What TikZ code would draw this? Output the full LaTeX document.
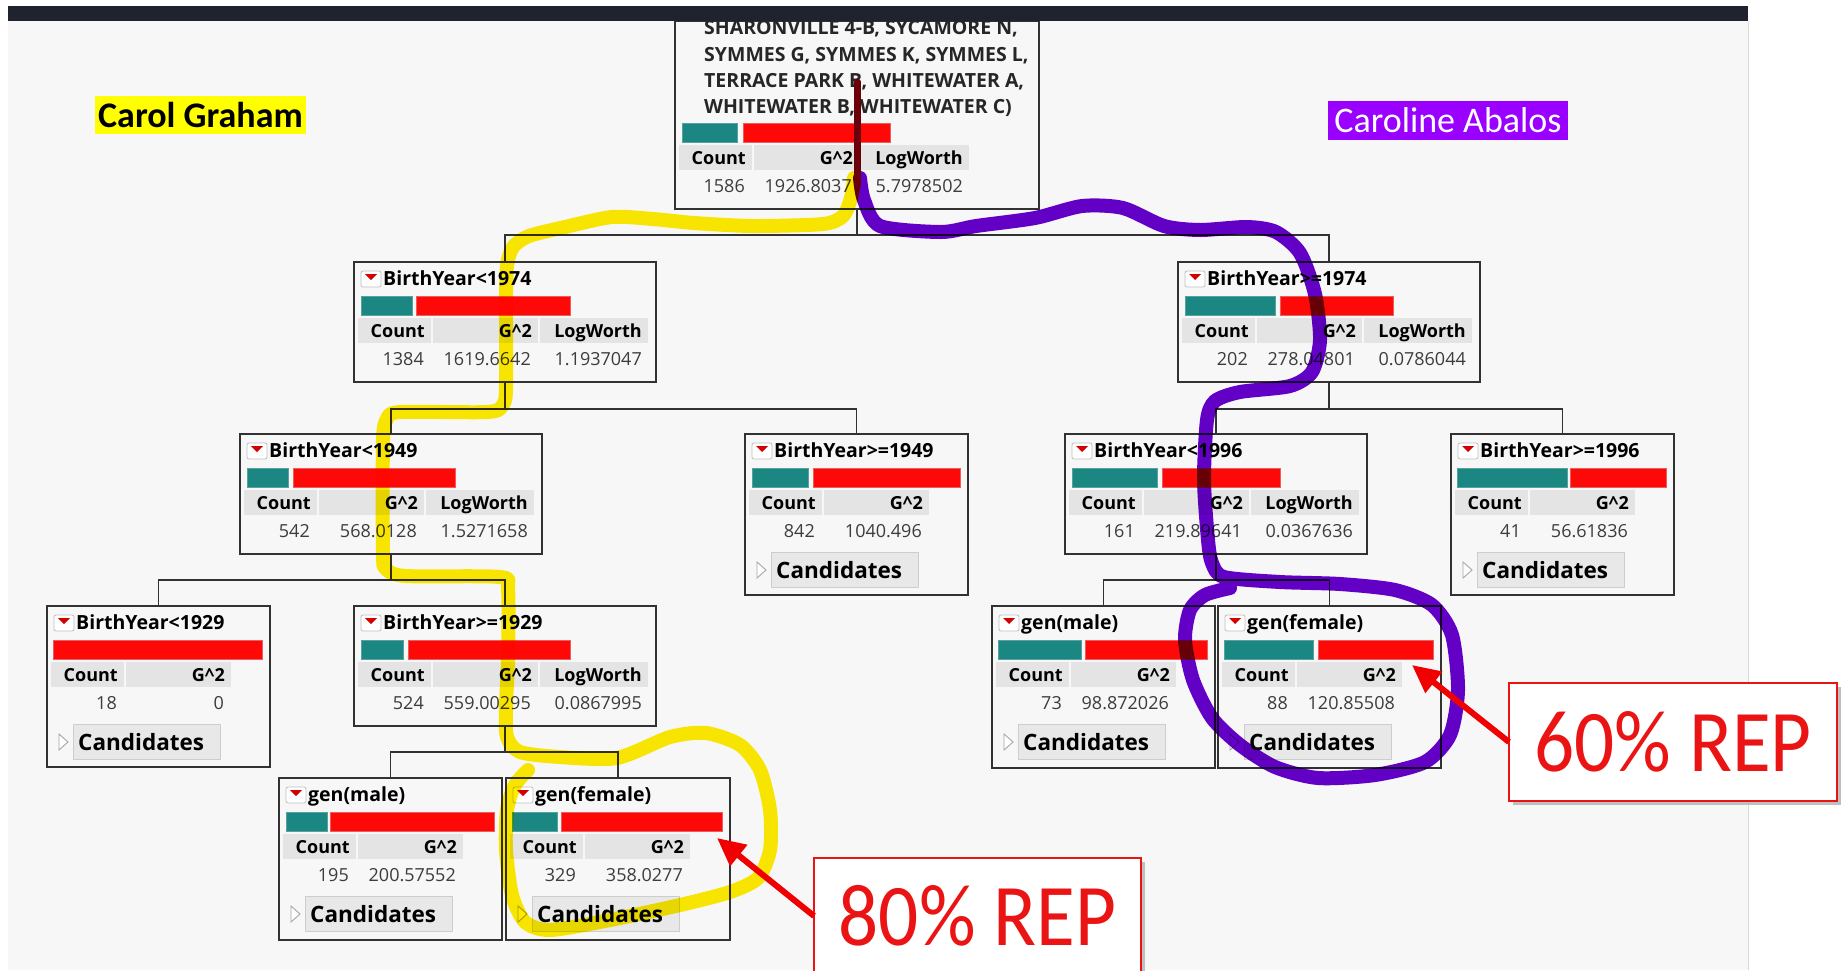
\documentclass[tikz,border=0pt]{standalone}
\usepackage{fontspec}
\setmainfont{Open Sans}
\newfontfamily\carl{Carlito}
\usetikzlibrary{arrows.meta}
\definecolor{bgc}{RGB}{247,247,247}
\definecolor{hdrc}{RGB}{228,228,228}
\definecolor{jteal}{RGB}{27,135,130}
\definecolor{jtealb}{RGB}{90,160,156}
\definecolor{jred}{RGB}{255,8,8}
\definecolor{jredb}{RGB}{232,95,95}
\definecolor{topbar}{RGB}{30,35,45}
\definecolor{hlyellow}{RGB}{255,236,0}
\definecolor{hlpurple}{RGB}{102,0,204}
\definecolor{overlap}{RGB}{105,0,10}
\definecolor{boxline}{RGB}{50,50,50}
\definecolor{valgray}{RGB}{60,60,60}
\definecolor{btnc}{RGB}{232,232,232}
\definecolor{btnline}{RGB}{205,205,205}
\definecolor{iconred}{RGB}{210,0,0}
\definecolor{arrred}{RGB}{240,0,0}
\definecolor{repred}{RGB}{235,20,20}
\definecolor{labyellow}{RGB}{255,255,0}
\definecolor{labpurple}{RGB}{153,0,255}
\tikzset{
 jbox/.style={draw=boxline, line width=1.3pt, fill=bgc, inner sep=0pt, outer sep=0pt, rectangle},
 titletxt/.style={anchor=base west, inner sep=0pt, font=\fontsize{19.5}{21}\selectfont\bfseries, text=black},
 hdrtxt/.style={anchor=base east, inner sep=0pt, font=\fontsize{18}{20}\selectfont\bfseries, text=black},
 valtxt/.style={anchor=base east, inner sep=0pt, font=\fontsize{18}{20}\selectfont, text=valgray},
 roottxt/.style={anchor=base west, inner sep=0pt, font=\fontsize{19.5}{21}\selectfont\bfseries, text=black!85},
 candbtn/.style={fill=btnc, draw=btnline, line width=1pt},
 candtxt/.style={anchor=base west, inner sep=0pt, font=\fontsize{22.5}{24}\selectfont\bfseries, text=black},
 edge/.style={draw=boxline, line width=1.2pt},
 hlY/.style={draw=hlyellow, line width=14pt, line cap=round, line join=round},
 hlP/.style={draw=hlpurple, line width=14pt, line cap=round, line join=round},
 redarrow/.style={draw=arrred, line width=6pt, -{Triangle[length=28pt,width=26pt]}},
 repbox/.style={draw=repred, line width=2pt, fill=white, inner sep=0pt, outer sep=0pt, rectangle},
 reptxt/.style={inner sep=0pt, text=repred, font=\carl\fontsize{88}{90}\selectfont},
}
\newcommand\jbox[5]{\node[jbox, minimum width=#4pt, minimum height=#5pt, anchor=north west] (#1) at (#2,#3) {};}
\newcommand\jicon[2]{%
 \draw[rounded corners=2pt, draw=black!25, fill=white, line width=0.8pt] (#1+7,#2+9) rectangle (#1+27,#2+25);
 \fill[iconred] (#1+11,#2+12) -- (#1+23,#2+12) -- (#1+17,#2+18) -- cycle;}
\newcommand\jtitle[3]{\node[titletxt] at (#1+29,#2+23) {#3};}
\newcommand\jbars[5]{%
 \draw[fill=jteal, draw=jtealb, line width=1pt] (#2,#1+34) rectangle (#3,#1+53);
 \draw[fill=jred, draw=jredb, line width=1pt] (#4,#1+34) rectangle (#5,#1+53);}
\newcommand\jhdr[3]{%
 \fill[hdrc] (#1+4,#2+56) rectangle (#1+77,#2+81);
 \fill[hdrc] (#1+79,#2+56) rectangle (#1+184,#2+81);
 \node[hdrtxt] at (#1+71,#2+75) {Count};
 \node[hdrtxt] at (#1+178,#2+75) {G\textasciicircum 2};
 \ifnum#3=3 \fill[hdrc] (#1+186,#2+56) rectangle (#1+294,#2+81);
 \node[hdrtxt] at (#1+288,#2+75) {LogWorth};\fi}
\newcommand\jvals[5]{%
 \node[valtxt] at (#1+70,#2+103) {#3};
 \node[valtxt] at (#1+177,#2+103) {#4};
 \node[valtxt] at (#1+288,#2+103) {#5};}
\newcommand\jcand[2]{%
 \draw[draw=black!35, fill=white, line width=0.9pt] (#1+12,#2+128) -- (#1+21,#2+136) -- (#1+12,#2+144) -- cycle;
 \draw[candbtn] (#1+26,#2+118) rectangle (#1+173,#2+153);
 \node[candtxt] at (#1+31,#2+144) {Candidates};}
\begin{document}
\begin{tikzpicture}[x=1pt,y=-1pt]
\useasboundingbox (0,0) rectangle (1844,970);
\fill[white] (0,0) rectangle (1844,970);
\fill[bgc] (8,21) rectangle (1748,970);
\draw[black!15, line width=1pt] (1748.5,21) -- (1748.5,970);

% ---- root
\node[jbox, minimum width=364pt, minimum height=188pt, anchor=north west] (root) at (675,21) {};
\node[roottxt] at (704,34) {SHARONVILLE 4-B, SYCAMORE N,};
\node[roottxt] at (704,61) {SYMMES G, SYMMES K, SYMMES L,};
\node[roottxt] at (704,87) {TERRACE PARK B, WHITEWATER A,};
\node[roottxt] at (704,113) {WHITEWATER B, WHITEWATER C)};
\jbars{89}{682}{737}{743}{890}
\jhdr{675}{89}{3}\jvals{675}{89}{1586}{1926.8037}{5.7978502}

% ---- level 1
\jbox{n74L}{354}{262}{302}{120}
\jicon{354}{262}\jtitle{354}{262}{BirthYear<1974}
\jbars{262}{361}{412}{416}{570}
\jhdr{354}{262}{3}\jvals{354}{262}{1384}{1619.6642}{1.1937047}

\jbox{n74R}{1178}{262}{302}{120}
\jicon{1178}{262}\jtitle{1178}{262}{BirthYear>=1974}
\jbars{262}{1185}{1275}{1280}{1393}
\jhdr{1178}{262}{3}\jvals{1178}{262}{202}{278.04801}{0.0786044}

% ---- level 2
\jbox{n49L}{240}{434}{302}{120}
\jicon{240}{434}\jtitle{240}{434}{BirthYear<1949}
\jbars{434}{247}{288}{293}{455}
\jhdr{240}{434}{3}\jvals{240}{434}{542}{568.0128}{1.5271658}

\jbox{n49R}{745}{434}{223}{161}
\jicon{745}{434}\jtitle{745}{434}{BirthYear>=1949}
\jbars{434}{752}{808}{813}{960}
\jhdr{745}{434}{2}\jvals{745}{434}{842}{1040.496}{}
\jcand{745}{434}

\jbox{n96L}{1065}{434}{302}{120}
\jicon{1065}{434}\jtitle{1065}{434}{BirthYear<1996}
\jbars{434}{1072}{1157}{1162}{1280}
\jhdr{1065}{434}{3}\jvals{1065}{434}{161}{219.89641}{0.0367636}

\jbox{n96R}{1451}{434}{223}{161}
\jicon{1451}{434}\jtitle{1451}{434}{BirthYear>=1996}
\jbars{434}{1457}{1567}{1570}{1666}
\jhdr{1451}{434}{2}\jvals{1451}{434}{41}{56.61836}{}
\jcand{1451}{434}

% ---- level 3
\jbox{n29L}{47}{606}{223}{161}
\jicon{47}{606}\jtitle{47}{606}{BirthYear<1929}
\draw[fill=jred, draw=jredb, line width=1pt] (53,640) rectangle (262,659);
\jhdr{47}{606}{2}\jvals{47}{606}{18}{0}{}
\jcand{47}{606}

\jbox{n29R}{354}{606}{302}{120}
\jicon{354}{606}\jtitle{354}{606}{BirthYear>=1929}
\jbars{606}{361}{403}{408}{570}
\jhdr{354}{606}{3}\jvals{354}{606}{524}{559.00295}{0.0867995}

\jbox{gmR}{992}{606}{223}{162}
\jicon{992}{606}\jtitle{992}{606}{gen(male)}
\jbars{606}{998}{1081}{1085}{1207}
\jhdr{992}{606}{2}\jvals{992}{606}{73}{98.872026}{}
\jcand{992}{606}

\jbox{gfR}{1218}{606}{223}{162}
\jicon{1218}{606}\jtitle{1218}{606}{gen(female)}
\jbars{606}{1224}{1313}{1318}{1433}
\jhdr{1218}{606}{2}\jvals{1218}{606}{88}{120.85508}{}
\jcand{1218}{606}

% ---- level 4
\jbox{gmL}{279}{778}{223}{162}
\jicon{279}{778}\jtitle{279}{778}{gen(male)}
\jbars{778}{286}{327}{330}{494}
\jhdr{279}{778}{2}\jvals{279}{778}{195}{200.57552}{}
\jcand{279}{778}

\jbox{gfL}{506}{778}{224}{162}
\jicon{506}{778}\jtitle{506}{778}{gen(female)}
\jbars{778}{512}{557}{561}{722}
\jhdr{506}{778}{2}\jvals{506}{778}{329}{358.0277}{}
\jcand{506}{778}

% ---- tree edges
\draw[edge] (root.south) -- ++(0,26) coordinate (j0) -| (n74L.north);
\draw[edge] (j0) -| (n74R.north);
\draw[edge] (n74L.south) -- ++(0,27) coordinate (j1) -| (n49L.north);
\draw[edge] (j1) -| (n49R.north);
\draw[edge] (n74R.south) -- ++(0,27) coordinate (j2) -| (n96L.north);
\draw[edge] (j2) -| (n96R.north);
\draw[edge] (n49L.south) -- ++(0,26) coordinate (j3) -| (n29L.north);
\draw[edge] (j3) -| (n29R.north);
\draw[edge] (n96L.south) -- ++(0,26) coordinate (j4) -| (gmR.north);
\draw[edge] (j4) -| (gfR.north);
\draw[edge] (n29R.south) -- ++(0,26) coordinate (j5) -| (gmL.north);
\draw[edge] (j5) -| (gfL.north);

% ---- top bar
\fill[topbar] (8,6) rectangle (1748,21);

% ---- freehand highlights
\begin{scope}[blend mode=multiply]
\draw[hlY] plot[smooth, tension=0.45] coordinates {
 (854,178) (851,198) (843,216) (823,224) (753,226) (694,223) (653,219) (612,217)
 (565,227) (529,236) (513,247) (507,266) (506,306) (506,388) (503,405) (488,412)
 (400,412) (387,419) (383,441) (383,553) (386,569) (406,576) (500,577) (508,589)
 (508,659) (506,706) (507,737) (520,752) (560,757) (617,758) (670,737) (706,733)
 (740,745) (760,770) (770,810) (770,850) (758,878) (730,892) (680,905) (610,920)
 (550,930) (525,922) (512,895) (506,850) (507,810) (515,785) (528,770)};
\draw[hlP] plot[smooth, tension=0.45] coordinates {
 (860,178) (864,200) (880,226) (941,232) (976,226) (1035,218) (1082,206) (1123,208)
 (1164,226) (1200,230) (1247,227) (1276,232) (1300,253) (1315,294) (1320,340)
 (1312,372) (1290,386) (1240,392) (1215,401) (1207,420) (1204,480) (1208,540)
 (1212,563) (1224,577) (1280,582) (1340,584) (1395,590) (1432,605) (1452,635)
 (1458,690) (1450,735) (1425,762) (1375,775) (1318,778) (1275,767) (1240,745)
 (1212,718) (1193,680) (1185,640) (1190,610) (1205,595) (1230,588)};
\end{scope}
\draw[draw=overlap, line width=7pt, line cap=round] (857,82) -- (857,185);

% ---- name labels
\node[fill=labyellow, minimum width=211pt, minimum height=38pt, inner sep=0pt,
      font=\carl\bfseries\fontsize{36}{38}\selectfont, text=black] (carol) at (200.5,115) {Carol Graham};
\node[fill=labpurple, minimum width=240pt, minimum height=39pt, inner sep=0pt,
      font=\carl\fontsize{36}{38}\selectfont, text=white] (caroline) at (1448,120.5) {Caroline Abalos};

% ---- REP callouts
\fill[black!25] (1513,687) rectangle (1841,805);
\node[repbox, minimum width=328pt, minimum height=118pt, anchor=north west] (rep60) at (1509,683) {};
\node[reptxt] at (rep60.center) {\scalebox{0.9}[1]{60\% REP}};
\fill[black!25] (818,862) rectangle (1145,980);
\node[repbox, minimum width=327pt, minimum height=116pt, anchor=north west] (rep80) at (814,858) {};
\node[reptxt] at (rep80.center) {\scalebox{0.9}[1]{80\% REP}};

\coordinate (tip60) at (1412,665);
\coordinate (tip80) at (717,838);
\draw[redarrow] (rep60.west) -- (tip60);
\draw[redarrow] (rep80.west) -- (tip80);
\end{tikzpicture}
\end{document}
